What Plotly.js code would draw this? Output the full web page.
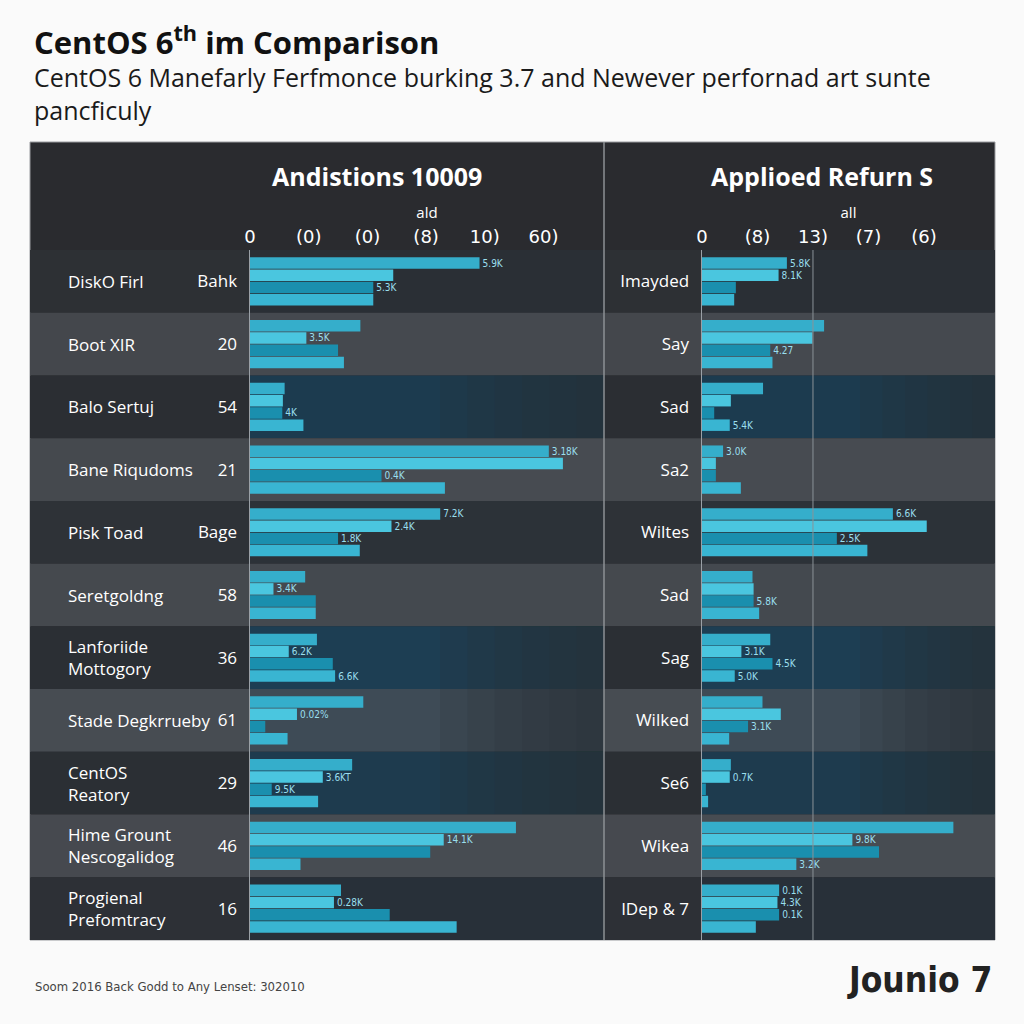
<!DOCTYPE html>
<html>
<head>
<meta charset="utf-8">
<script src="https://cdn.plot.ly/plotly-3.0.1.min.js"></script>
<style>
html,body{margin:0;padding:0;background:#fafafa;}
#chart{width:1024px;height:1024px;}
</style>
</head>
<body>
<div id="chart"></div>
<script>
// ---------- data ----------
const rowIndex = [0,1,2,3,4,5,6,7,8,9,10];

const leftNames = ["DiskO Firl","Boot XIR","Balo Sertuj","Bane Riqudoms","Pisk Toad","Seretgoldng",
  "Lanforiide<br>Mottogory","Stade Degkrrueby","CentOS<br>Reatory","Hime Grount<br>Nescogalidog","Progienal<br>Prefomtracy"];
const leftCodes = ["Bahk","20","54","21","Bage","58","36","61","29","46","16"];
const rightNames = ["Imayded","Say","Sad","Sa2","Wiltes","Sad","Sag","Wilked","Se6","Wikea","IDep & 7"];

const leftTitle = "Andistions 10009";
const rightTitle = "Applioed Refurn S";
const leftAxisTitle = "ald";
const rightAxisTitle = "all";
const leftTickVals = [0,10,20,30,40,50];
const leftTickText = ["0","(0)","(0)","(8)","10)","60)"];
const rightTickVals = [0,10,20,30,40];
const rightTickText = ["0","(8)","13)","(7)","(6)"];

const leftS1 = [39.1,18.8,5.9,50.9,32.4,9.4,11.4,19.3,17.4,45.3,15.5];
const leftS2 = [24.4,9.6,5.6,53.3,24.1,4.0,6.6,8.0,12.4,33.0,14.3];
const leftS3 = [21.0,15.0,5.5,22.4,15.0,11.2,14.1,2.6,3.7,30.7,23.8];
const leftS4 = [21.0,16.0,9.1,33.2,18.7,11.2,14.5,6.4,11.6,8.6,35.2];

const leftT1 = ["5.9K","","","3.18K","7.2K","","","","","",""];
const leftT2 = ["","3.5K","","","2.4K","3.4K","6.2K","0.02%","3.6KT","14.1K","0.28K"];
const leftT3 = ["5.3K","","4K","0.4K","1.8K","","","","9.5K","",""];
const leftT4 = ["","","","","","","6.6K","","","",""];

const rightS1 = [15.3,22.0,11.0,3.8,34.4,9.1,12.3,10.9,5.2,45.3,13.9];
const rightS2 = [13.8,19.9,5.2,2.5,40.5,9.3,7.1,14.2,5.0,27.1,13.6];
const rightS3 = [6.1,12.3,2.2,2.5,24.3,9.3,12.7,8.3,0.7,31.9,13.9];
const rightS4 = [5.8,12.7,5.0,7.0,29.8,10.3,5.9,4.9,1.1,17.0,9.7];

const rightT1 = ["5.8K","","","3.0K","6.6K","","","","","","0.1K"];
const rightT2 = ["8.1K","","","","","","3.1K","","0.7K","9.8K","4.3K"];
const rightT3 = ["","4.27","","","2.5K","5.8K","4.5K","3.1K","","","0.1K"];
const rightT4 = ["","","5.4K","","","","5.0K","","","3.2K",""];

// ---------- style ----------
const C1 = "#35aecb", C2 = "#4ac6df", C3 = "#1a8fae", C4 = "#39b5d2";
const txtFont = {family:"DejaVu Sans Condensed, DejaVu Sans", size:10, color:"#9adfee"};

function barTrace(x, t, color, xa, ya){
  return {type:"bar", orientation:"h", x:x, y:rowIndex, text:t, textposition:"outside",
    cliponaxis:false, constraintext:"none", textfont:txtFont,
    marker:{color:color, line:{width:0}}, xaxis:xa, yaxis:ya, hoverinfo:"x"};
}

const data = [
  barTrace(leftS1, leftT1, C1, "x", "y"),
  barTrace(leftS2, leftT2, C2, "x", "y"),
  barTrace(leftS3, leftT3, C3, "x", "y"),
  barTrace(leftS4, leftT4, C4, "x", "y"),
  barTrace(rightS1, rightT1, C1, "x2", "y2"),
  barTrace(rightS2, rightT2, C2, "x2", "y2"),
  barTrace(rightS3, rightT3, C3, "x2", "y2"),
  barTrace(rightS4, rightT4, C4, "x2", "y2")
];

const W = 1024;
const px = v => v / W;
const py = v => 1 - v / W;

const panelL = px(30), panelR = px(995), panelMid = px(604);
const panelTop = py(142), plotTop = py(250), plotBot = py(940);

// row band colours
const bandLabel = ["#2d3034","#44474c","#2b2e33","#45494e","#2e3237","#45494e","#2b2f34","#474c52","#2b2f34","#46494f","#2d3036"];
const bandPlot  = ["#2a2f35","#45494f","#1c3b4f","#474b51","#2c3238","#44494f","#1d3e53","#3e4b56","#1e3b4e","#474c52","#283039"];
const isBlue    = [false,false,true,false,false,false,true,true,true,false,false];

const shapes = [];
shapes.push({type:"rect", xref:"paper", yref:"paper", x0:panelL, x1:panelR, y0:plotBot, y1:panelTop,
  fillcolor:"#2a2b2f", line:{color:"#9a9ca0", width:1}, layer:"below"});
function addBands(x0, xa, xb, x1){
  rowIndex.forEach(i => {
    shapes.push({type:"rect", xref:"paper", yref:"y", x0:x0, x1:xa, y0:i-0.5, y1:i+0.5,
      fillcolor:bandLabel[i], line:{width:0}, layer:"below"});
    shapes.push({type:"rect", xref:"paper", yref:"y", x0:xa, x1:x1, y0:i-0.5, y1:i+0.5,
      fillcolor:bandPlot[i], line:{width:0}, layer:"below"});
    if (isBlue[i]) {
      // fade towards the right edge of the panel
      const n = 6, w = (x1 - xb) / n;
      for (let k = 0; k < n; k++) {
        shapes.push({type:"rect", xref:"paper", yref:"y", x0:xb + k*w, x1:x1, y0:i-0.5, y1:i+0.5,
          fillcolor:"#2b2e33", opacity:0.17, line:{width:0}, layer:"below"});
      }
    }
  });
}
addBands(panelL, px(250), px(440), panelMid);
addBands(panelMid, px(702), px(860), panelR);
shapes.push({type:"line", xref:"paper", yref:"paper", x0:panelMid, x1:panelMid, y0:plotBot, y1:panelTop,
  line:{color:"#8d9094", width:1.5}});
shapes.push({type:"line", xref:"x2", yref:"paper", x0:20, x1:20, y0:plotBot, y1:plotTop,
  line:{color:"#8a9298", width:1}});

const annotations = [];
annotations.push({xref:"paper", yref:"paper", x:px(32), y:py(40), xanchor:"left", yanchor:"middle",
  text:"<b>CentOS 6<sup>th</sup> im Comparison</b>", showarrow:false,
  font:{family:"Open Sans", size:31, color:"#111"}});
annotations.push({xref:"paper", yref:"paper", x:px(32), y:py(93), xanchor:"left", yanchor:"middle",
  text:"CentOS 6 Manefarly Ferfmonce burking 3.7 and Newever perfornad art sunte<br>pancficuly", showarrow:false, align:"left",
  font:{family:"Open Sans", size:25, color:"#1a1a1a"}});
annotations.push({xref:"paper", yref:"paper", x:px(377), y:py(176), xanchor:"center", yanchor:"middle",
  text:"<b>"+leftTitle+"</b>", showarrow:false, font:{family:"Open Sans", size:25, color:"#ffffff"}});
annotations.push({xref:"paper", yref:"paper", x:px(822), y:py(176), xanchor:"center", yanchor:"middle",
  text:"<b>"+rightTitle+"</b>", showarrow:false, font:{family:"Open Sans", size:25, color:"#ffffff"}});
rowIndex.forEach(i => {
  annotations.push({xref:"paper", yref:"y", x:px(66), y:i, xanchor:"left", yanchor:"middle", align:"left",
    text:leftNames[i], showarrow:false, font:{family:"Open Sans", size:17, color:"#ffffff"}});
});
annotations.push({xref:"paper", yref:"paper", x:px(33), y:py(986), xanchor:"left", yanchor:"middle",
  text:"Soom 2016 Back Godd to Any Lenset: 302010", showarrow:false,
  font:{family:"DejaVu Sans Condensed", size:13, color:"#444"}});
annotations.push({xref:"paper", yref:"paper", x:px(994), y:py(980), xanchor:"right", yanchor:"middle",
  text:"<b>Jounio 7</b>", showarrow:false,
  font:{family:"DejaVu Sans Condensed", size:35, color:"#222"}});

const axisFont = {family:"DejaVu Sans", size:18, color:"#ffffff"};
const layout = {
  width:1024, height:1024,
  margin:{l:0, r:0, t:0, b:0},
  paper_bgcolor:"#fafafa", plot_bgcolor:"rgba(0,0,0,0)",
  showlegend:false,
  barmode:"group", bargap:0.22, bargroupgap:0.06,
  font:{family:"Open Sans", color:"#ffffff"},
  xaxis:{domain:[px(250), panelMid], range:[0, 60.3], side:"top", anchor:"y",
    tickvals:leftTickVals, ticktext:leftTickText, tickfont:axisFont, showgrid:false, zeroline:false,
    showline:false, ticks:"", ticklabelstandoff:2,
    title:{text:leftAxisTitle, font:{family:"Open Sans", size:15, color:"#ffffff"}, standoff:4}},
  yaxis:{domain:[plotBot, plotTop], range:[10.5,-0.5], anchor:"x", tickvals:rowIndex, ticktext:leftCodes,
    tickfont:{family:"Open Sans", size:17, color:"#ffffff"}, showgrid:false, zeroline:false,
    showline:true, linecolor:"#9aa0a6", linewidth:1.5, ticks:"", ticklabelstandoff:8},
  xaxis2:{domain:[px(702), panelR], range:[0, 52.8], side:"top", anchor:"y2",
    tickvals:rightTickVals, ticktext:rightTickText, tickfont:axisFont, showgrid:false, zeroline:false,
    showline:false, ticks:"", ticklabelstandoff:2,
    title:{text:rightAxisTitle, font:{family:"Open Sans", size:15, color:"#ffffff"}, standoff:4}},
  yaxis2:{domain:[plotBot, plotTop], range:[10.5,-0.5], anchor:"x2", tickvals:rowIndex, ticktext:rightNames,
    tickfont:{family:"Open Sans", size:17, color:"#ffffff"}, showgrid:false, zeroline:false,
    showline:true, linecolor:"#9aa0a6", linewidth:1.5, ticks:"", ticklabelstandoff:8},
  shapes:shapes,
  annotations:annotations
};

Plotly.newPlot("chart", data, layout, {displayModeBar:false, staticPlot:true});
</script>
</body>
</html>
